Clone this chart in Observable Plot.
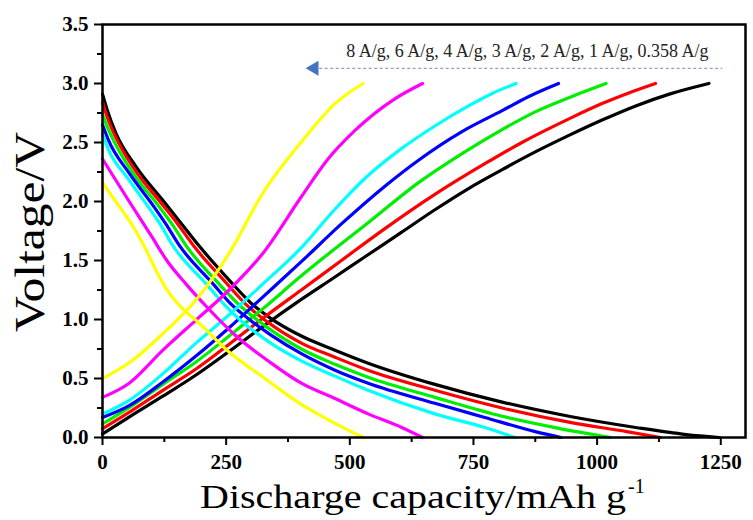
<!DOCTYPE html>
<html><head><meta charset="utf-8">
<script src="https://cdn.jsdelivr.net/npm/d3@7"></script>
<script src="https://cdn.jsdelivr.net/npm/@observablehq/plot@0.6"></script>
<style>body{margin:0;background:#fff;} #chart svg{display:block;}</style>
</head><body><div id="chart"></div>
<script>
// Current densities (series) and their colours
const rates = ["0.358 A/g","1 A/g","2 A/g","3 A/g","4 A/g","6 A/g","8 A/g"];
const rateColors = ["#000000","#ff0000","#00ee00","#0000ff","#00ffff","#ff00ff","#ffff00"];

// [capacity (mAh/g), voltage (V)]
const discharge0358 = [[0,2.91],[10,2.77],[27,2.58],[67,2.30],[122,2.01],[160,1.81],[196,1.62],[257,1.33],[300,1.14],[340,1.01],[402,0.86],[470,0.74],[537,0.63],[672,0.45],[808,0.30],[943,0.18],[1078,0.085],[1180,0.025],[1247,0]];
const charge0358 = [[0,0.03],[60,0.19],[122,0.35],[189,0.53],[256,0.73],[324,0.94],[402,1.17],[470,1.36],[530,1.53],[605,1.74],[672,1.93],[740,2.11],[808,2.27],[875,2.42],[943,2.56],[1010,2.69],[1078,2.81],[1146,2.91],[1226,3.0]];
const discharge1 = [[0,2.84],[10,2.71],[25,2.56],[65,2.27],[118,1.99],[152,1.81],[185,1.62],[248,1.32],[292,1.12],[330,0.99],[402,0.80],[470,0.68],[537,0.57],[672,0.40],[808,0.25],[943,0.13],[1060,0.05],[1128,0]];
const charge1 = [[0,0.075],[60,0.23],[122,0.40],[189,0.58],[256,0.79],[324,1.01],[402,1.25],[483,1.50],[571,1.77],[672,2.06],[773,2.32],[848,2.50],[943,2.70],[1010,2.83],[1064,2.92],[1118,3.0]];
const discharge2 = [[0,2.74],[10,2.63],[22,2.52],[60,2.25],[112,1.97],[142,1.80],[170,1.62],[236,1.30],[280,1.11],[318,0.98],[402,0.75],[470,0.62],[537,0.51],[672,0.34],[808,0.18],[920,0.08],[1027,0]];
const charge2 = [[0,0.115],[60,0.27],[122,0.45],[189,0.64],[256,0.86],[324,1.09],[402,1.37],[443,1.51],[537,1.82],[639,2.16],[740,2.44],[808,2.61],[875,2.76],[943,2.88],[1018,3.0]];
const discharge3 = [[0,2.65],[12,2.52],[54,2.24],[105,1.95],[128,1.81],[155,1.63],[224,1.30],[260,1.13],[300,0.99],[340,0.87],[402,0.71],[470,0.57],[537,0.46],[672,0.29],[773,0.17],[875,0.05],[927,0]];
const charge3 = [[0,0.17],[54,0.27],[122,0.47],[189,0.69],[256,0.93],[324,1.19],[402,1.49],[483,1.81],[571,2.13],[639,2.35],[726,2.59],[808,2.77],[862,2.89],[922,3.0]];
const discharge4 = [[0,2.57],[12,2.44],[54,2.18],[100,1.91],[118,1.80],[140,1.64],[210,1.30],[250,1.11],[280,0.99],[340,0.80],[402,0.65],[470,0.52],[537,0.40],[672,0.20],[773,0.085],[834,0]];
const charge4 = [[0,0.2],[54,0.315],[122,0.54],[189,0.80],[256,1.04],[324,1.30],[400,1.60],[469,1.93],[537,2.22],[605,2.45],[672,2.64],[740,2.81],[790,2.92],[836,3.0]];
const discharge6 = [[0,2.36],[54,2.0],[100,1.70],[130,1.50],[169,1.30],[210,1.11],[270,0.86],[338,0.64],[402,0.46],[470,0.33],[537,0.2],[605,0.085],[647,0]];
const charge6 = [[0,0.34],[54,0.46],[122,0.74],[189,0.995],[256,1.25],[324,1.56],[402,2.04],[456,2.36],[510,2.6],[591,2.87],[647,3.0]];
const discharge8 = [[0,2.16],[30,1.98],[63,1.78],[88,1.59],[110,1.40],[129,1.26],[160,1.10],[190,0.99],[257,0.72],[325,0.51],[402,0.28],[470,0.12],[527,0]];
const charge8 = [[0,0.50],[61,0.655],[122,0.88],[189,1.165],[256,1.56],[324,2.07],[405,2.52],[473,2.84],[527,3.0]];

const dischargeCurves = [discharge0358, discharge1, discharge2, discharge3, discharge4, discharge6, discharge8];
const chargeCurves = [charge0358, charge1, charge2, charge3, charge4, charge6, charge8];

// Axis ticks
const xTicks = [0,250,500,750,1000,1250];
const xMinorTicks = [125,375,625,875,1125];
const yTicks = [0,0.5,1,1.5,2,2.5,3,3.5];
const yMinorTicks = [0.25,0.75,1.25,1.75,2.25,2.75,3.25];

// Annotation
const annotationText = ["8 A/g, 6 A/g, 4 A/g, 3 A/g, 2 A/g, 1 A/g, 0.358 A/g"];
const annotationAt = [{x:1225, y:3.274}];
const arrowLine = [{x1:428, x2:1254, y:3.129}];
const arrowHead = [{x:428, y:3.129}];

const rows = [];
rates.forEach((rate, i) => {
  dischargeCurves[i].forEach(([c, v]) => rows.push({rate, key: rate + "-d", cap: c, v}));
  chargeCurves[i].forEach(([c, v]) => rows.push({rate, key: rate + "-c", cap: c, v}));
});

const serif = "'Liberation Serif','Times New Roman',serif";

const plot = Plot.plot({
  width: 753, height: 520,
  marginLeft: 102, marginRight: 8, marginTop: 24, marginBottom: 83,
  style: {fontFamily: serif, background: "#fff", color: "#000"},
  x: {domain: [0, 1300]},
  y: {domain: [0, 3.5]},
  color: {domain: rates, range: rateColors},
  marks: [
    Plot.line(rows, {x: "cap", y: "v", z: "key", stroke: "rate", strokeWidth: 3.2, curve: "monotone-x"}),
    Plot.axisX({ticks: xTicks, tickSize: 8, tickPadding: 9, tickFormat: d => String(d), fontSize: 21, fontWeight: "bold", label: null, strokeWidth: 2}),
    Plot.axisX({ticks: xMinorTicks, tickSize: 5, text: null, label: null, strokeWidth: 2}),
    Plot.axisY({ticks: yTicks, tickSize: 8, tickPadding: 6, tickFormat: d3.format(".1f"), fontSize: 21, fontWeight: "bold", label: null, strokeWidth: 2}),
    Plot.axisY({ticks: yMinorTicks, tickSize: 5, text: null, label: null, strokeWidth: 2}),
    Plot.frame({strokeWidth: 2.5}),
    Plot.ruleY(arrowLine, {x1: "x1", x2: "x2", y: "y", stroke: "#8aa0d4", strokeWidth: 1.3, strokeDasharray: "3,2.5"}),
    Plot.dot(arrowHead, {x: "x", y: "y", symbol: "triangle", r: 5.5, rotate: -90, fill: "#4472c4", stroke: null}),
    Plot.text(annotationAt, {x: "x", y: "y", text: () => annotationText[0], textAnchor: "end", lineAnchor: "middle", fontSize: 18, fill: "#222"})
  ]
});

const svg = d3.select(plot);
svg.append("text")
  .attr("x", 200).attr("y", 508)
  .attr("text-anchor", "start")
  .attr("font-family", serif).attr("font-size", 33)
  .attr("textLength", 426).attr("lengthAdjust", "spacingAndGlyphs")
  .text("Discharge capacity/mAh g");
svg.append("text")
  .attr("x", 628).attr("y", 493)
  .attr("text-anchor", "start")
  .attr("font-family", serif).attr("font-size", 20)
  .text("-1");
svg.append("text")
  .attr("transform", "translate(44,232) rotate(-90)")
  .attr("text-anchor", "middle")
  .attr("font-family", serif).attr("font-size", 42)
  .attr("textLength", 200).attr("lengthAdjust", "spacingAndGlyphs")
  .text("Voltage/V");

document.getElementById("chart").appendChild(plot);
</script>
</body></html>
